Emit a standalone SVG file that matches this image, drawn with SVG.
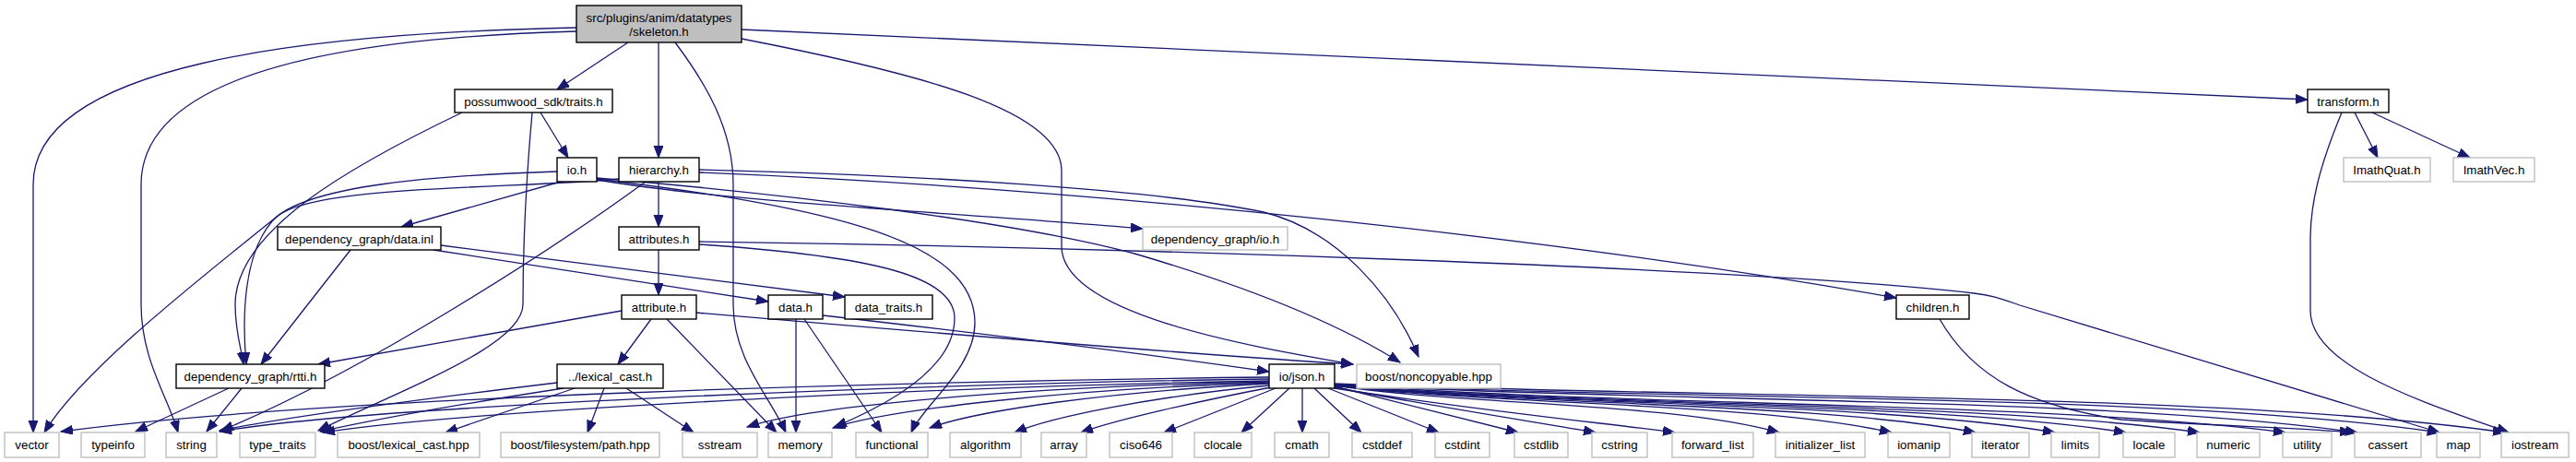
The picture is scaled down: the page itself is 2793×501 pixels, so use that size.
<svg xmlns="http://www.w3.org/2000/svg" width="2793" height="501" viewBox="0 0 2793 501">
<style>
  .bg{fill:#ffffff}
  .e{fill:none;stroke:#191970;stroke-width:1.3;marker-end:url(#arr)}
  .doc{fill:#ffffff;stroke:#000000;stroke-width:1.4}
  .ext{fill:#ffffff;stroke:#bfbfbf;stroke-width:1.4}
  .root{fill:#bfbfbf;stroke:#000000;stroke-width:1.4}
  text{font-family:"Liberation Sans",Arial,Helvetica,sans-serif;font-size:13.33px;fill:#000000;text-anchor:middle}
</style>
<defs>
  <marker id="arr" markerUnits="userSpaceOnUse" markerWidth="14" markerHeight="11" refX="13" refY="5" orient="auto">
    <path d="M0,0 L13,5 L0,10 z" fill="#191970" stroke="#191970" stroke-width="1"/>
  </marker>
</defs>
<rect class="bg" x="0" y="0" width="2793" height="501"/>
<g id="edges">
  <!-- skeleton.h -->
  <path class="e" d="M625,30 C 330,36 36,70 36,200 L 36,469"/>
  <path class="e" d="M625,34 C 400,40 153,72 153,200 L 153,330 C 153,390 182,430 193,469"/>
  <path class="e" d="M681,46 L 604,97"/>
  <path class="e" d="M714,46 L 714,171"/>
  <path class="e" d="M732,46 C 765,90 795,140 795,200 L 795,330 C 795,390 835,430 852,469"/>
  <path class="e" d="M804,32 L 2502,108"/>
  <path class="e" d="M804,42 C 1000,80 1151,120 1151,185 L 1151,267 C 1151,340 1350,375 1467,395"/>
  <!-- possumwood_sdk/traits.h -->
  <path class="e" d="M586,122 L 616,171"/>
  <path class="e" d="M501,122 C 380,180 255,250 255,330 C 255,360 262,380 264,395"/>
  <path class="e" d="M577,122 C 570,200 567,280 567,330 C 567,375 440,420 345,467"/>
  <!-- io.h -->
  <path class="e" d="M604,186 C 480,190 330,200 295,240 C 265,275 262,340 267,395"/>
  <path class="e" d="M608,197 L 435,246"/>
  <path class="e" d="M647,195 C 800,220 1000,228 1239,248"/>
  <path class="e" d="M647,193 C 850,210 1100,240 1230,275 C 1350,310 1450,350 1518,393"/>
  <path class="e" d="M647,194 C 900,225 1057,260 1057,350 C 1057,400 1000,440 988,469"/>
  <!-- hierarchy.h -->
  <path class="e" d="M714,197 L 714,246"/>
  <path class="e" d="M671,194 C 560,205 340,200 300,235 C 220,300 90,400 48,469"/>
  <path class="e" d="M700,197 C 600,270 400,400 240,467"/>
  <path class="e" d="M758,184 C 1000,190 1250,205 1370,230 C 1450,250 1510,320 1538,387"/>
  <path class="e" d="M758,187 C 1200,205 1700,260 2056,323"/>
  <!-- attributes.h -->
  <path class="e" d="M714,271 L 714,320"/>
  <path class="e" d="M758,262 C 1200,268 1900,290 2140,318 C 2160,320 2170,324 2190,331 L 2645,469"/>
  <path class="e" d="M758,265 C 950,278 1035,300 1035,345 C 1035,400 960,440 905,463"/>
  <!-- dependency_graph/data.inl -->
  <path class="e" d="M380,271 L 283,395"/>
  <path class="e" d="M470,271 L 833,327"/>
  <path class="e" d="M478,266 L 916,322"/>
  <!-- attribute.h -->
  <path class="e" d="M674,337 L 345,395"/>
  <path class="e" d="M706,346 L 670,395"/>
  <path class="e" d="M723,346 L 842,469"/>
  <path class="e" d="M755,339 C 1000,360 1300,385 1467,395"/>
  <!-- data.h -->
  <path class="e" d="M863,346 L 863,469"/>
  <path class="e" d="M872,346 L 956,469"/>
  <path class="e" d="M892,342 C 1050,360 1250,385 1376,403"/>
  <!-- dependency_graph/rtti.h -->
  <path class="e" d="M248,421 L 147,468"/>
  <path class="e" d="M262,421 L 224,468"/>
  <!-- ../lexical_cast.h -->
  <path class="e" d="M604,415 C 480,430 320,450 238,467"/>
  <path class="e" d="M611,421 C 520,435 420,452 347,468"/>
  <path class="e" d="M623,421 L 483,469"/>
  <path class="e" d="M655,421 L 637,469"/>
  <path class="e" d="M679,421 L 752,469"/>
  <!-- io/json.h left -->
  <path class="e" d="M1376,409 C 1000,413 350,430 66,468"/>
  <path class="e" d="M1376,411 C 1000,416 400,440 238,468"/>
  <path class="e" d="M1376,413 C 1050,418 500,445 350,469"/>
  <path class="e" d="M1376,414 C 1100,420 880,440 810,463"/>
  <path class="e" d="M1376,415 C 1150,422 960,445 903,464"/>
  <path class="e" d="M1376,416 C 1200,425 1060,445 1008,464"/>
  <path class="e" d="M1376,418 C 1250,430 1140,452 1100,469"/>
  <path class="e" d="M1378,420 C 1300,435 1210,455 1172,469"/>
  <path class="e" d="M1383,421 L 1262,469"/>
  <path class="e" d="M1398,421 L 1346,469"/>
  <!-- io/json.h down / right -->
  <path class="e" d="M1412,421 L 1412,469"/>
  <path class="e" d="M1425,421 L 1476,469"/>
  <path class="e" d="M1440,421 L 1560,469"/>
  <path class="e" d="M1447,419 L 1646,469"/>
  <path class="e" d="M1447,420 C 1550,440 1680,460 1730,469"/>
  <path class="e" d="M1447,421 C 1600,445 1750,460 1816,469"/>
  <path class="e" d="M1447,418 C 1592,440 1809,436 1929,469"/>
  <path class="e" d="M1447,418 C 1628,440 1901,436 2051,469"/>
  <path class="e" d="M1447,418 C 1656,440 1969,436 2142,469"/>
  <path class="e" d="M1447,418 C 1682,440 2034,436 2228,469"/>
  <path class="e" d="M1447,418 C 1705,440 2091,436 2305,469"/>
  <path class="e" d="M1447,418 C 1729,440 2151,436 2385,469"/>
  <path class="e" d="M1447,417 C 1757,440 2221,436 2478,469"/>
  <path class="e" d="M1447,417 C 1780,436 2280,430 2556,469"/>
  <path class="e" d="M1447,417 C 1809,434 2353,426 2645,469"/>
  <path class="e" d="M1447,416 C 1827,432 2398,424 2716,469"/>
  <!-- children.h -->
  <path class="e" d="M2103,346 C 2140,410 2200,440 2300,455 C 2400,462 2500,464 2550,469"/>
  <!-- transform.h -->
  <path class="e" d="M2553,122 L 2578,171"/>
  <path class="e" d="M2572,122 L 2678,171"/>
  <path class="e" d="M2539,122 C 2515,180 2505,220 2505,260 L 2505,337 C 2505,400 2640,440 2720,469"/>
</g>
<g id="node-skeleton"><rect class="root" x="625" y="6" width="179" height="40"/><text x="714.5" y="23.5">src/plugins/anim/datatypes</text><text x="714.5" y="38.5">/skeleton.h</text></g>
<g id="node-traits"><rect class="doc" x="493" y="97" width="171" height="25"/><text x="578.5" y="114.5">possumwood_sdk/traits.h</text></g>
<g id="node-transform"><rect class="doc" x="2502" y="97" width="88" height="25"/><text x="2546" y="114.5">transform.h</text></g>
<g id="node-io"><rect class="doc" x="604" y="171" width="43" height="26"/><text x="625.5" y="188.5">io.h</text></g>
<g id="node-hierarchy"><rect class="doc" x="671" y="171" width="87" height="26"/><text x="714.5" y="188.5">hierarchy.h</text></g>
<g id="node-imathquat"><rect class="ext" x="2541" y="171" width="94" height="26"/><text x="2588" y="188.5">ImathQuat.h</text></g>
<g id="node-imathvec"><rect class="ext" x="2660" y="171" width="88" height="26"/><text x="2704" y="188.5">ImathVec.h</text></g>
<g id="node-datainl"><rect class="doc" x="301" y="246" width="177" height="25"/><text x="389.5" y="263.5">dependency_graph/data.inl</text></g>
<g id="node-attributes"><rect class="doc" x="671" y="246" width="87" height="25"/><text x="714.5" y="263.5">attributes.h</text></g>
<g id="node-dgio"><rect class="ext" x="1239" y="246" width="157" height="25"/><text x="1317.5" y="263.5">dependency_graph/io.h</text></g>
<g id="node-attribute"><rect class="doc" x="674" y="320" width="81" height="26"/><text x="714.5" y="337.5">attribute.h</text></g>
<g id="node-data"><rect class="doc" x="833" y="320" width="59" height="26"/><text x="862.5" y="337.5">data.h</text></g>
<g id="node-datatraits"><rect class="doc" x="916" y="320" width="95" height="26"/><text x="963.5" y="337.5">data_traits.h</text></g>
<g id="node-children"><rect class="doc" x="2056" y="320" width="79" height="26"/><text x="2095.5" y="337.5">children.h</text></g>
<g id="node-rtti"><rect class="doc" x="191" y="395" width="161" height="26"/><text x="271.5" y="412.5">dependency_graph/rtti.h</text></g>
<g id="node-lexicalcast"><rect class="doc" x="604" y="395" width="115" height="26"/><text x="661.5" y="412.5">../lexical_cast.h</text></g>
<g id="node-json"><rect class="doc" x="1376" y="395" width="71" height="26"/><text x="1411.5" y="412.5">io/json.h</text></g>
<g id="node-noncopyable"><rect class="ext" x="1471" y="395" width="156" height="26"/><text x="1549" y="412.5">boost/noncopyable.hpp</text></g>
<g id="node-vector"><rect class="ext" x="5" y="469" width="59" height="27"/><text x="34.5" y="487">vector</text></g>
<g id="node-typeinfo"><rect class="ext" x="88" y="469" width="69" height="27"/><text x="122.5" y="487">typeinfo</text></g>
<g id="node-string"><rect class="ext" x="180" y="469" width="55" height="27"/><text x="207.5" y="487">string</text></g>
<g id="node-typetraits"><rect class="ext" x="260" y="469" width="82" height="27"/><text x="301" y="487">type_traits</text></g>
<g id="node-boostlexical"><rect class="ext" x="366" y="469" width="154" height="27"/><text x="443" y="487">boost/lexical_cast.hpp</text></g>
<g id="node-boostpath"><rect class="ext" x="543" y="469" width="172" height="27"/><text x="629" y="487">boost/filesystem/path.hpp</text></g>
<g id="node-sstream"><rect class="ext" x="740" y="469" width="81" height="27"/><text x="780.5" y="487">sstream</text></g>
<g id="node-memory"><rect class="ext" x="833" y="469" width="69" height="27"/><text x="867.5" y="487">memory</text></g>
<g id="node-functional"><rect class="ext" x="928" y="469" width="78" height="27"/><text x="967" y="487">functional</text></g>
<g id="node-algorithm"><rect class="ext" x="1030" y="469" width="77" height="27"/><text x="1068.5" y="487">algorithm</text></g>
<g id="node-array"><rect class="ext" x="1129" y="469" width="49" height="27"/><text x="1153.5" y="487">array</text></g>
<g id="node-ciso646"><rect class="ext" x="1203" y="469" width="68" height="27"/><text x="1237" y="487">ciso646</text></g>
<g id="node-clocale"><rect class="ext" x="1295" y="469" width="62" height="27"/><text x="1326" y="487">clocale</text></g>
<g id="node-cmath"><rect class="ext" x="1382" y="469" width="59" height="27"/><text x="1411.5" y="487">cmath</text></g>
<g id="node-cstddef"><rect class="ext" x="1466" y="469" width="65" height="27"/><text x="1498.5" y="487">cstddef</text></g>
<g id="node-cstdint"><rect class="ext" x="1556" y="469" width="59" height="27"/><text x="1585.5" y="487">cstdint</text></g>
<g id="node-cstdlib"><rect class="ext" x="1642" y="469" width="58" height="27"/><text x="1671" y="487">cstdlib</text></g>
<g id="node-cstring"><rect class="ext" x="1726" y="469" width="60" height="27"/><text x="1756" y="487">cstring</text></g>
<g id="node-forwardlist"><rect class="ext" x="1813" y="469" width="88" height="27"/><text x="1857" y="487">forward_list</text></g>
<g id="node-initlist"><rect class="ext" x="1925" y="469" width="97" height="27"/><text x="1973.5" y="487">initializer_list</text></g>
<g id="node-iomanip"><rect class="ext" x="2047" y="469" width="67" height="27"/><text x="2080.5" y="487">iomanip</text></g>
<g id="node-iterator"><rect class="ext" x="2138" y="469" width="62" height="27"/><text x="2169" y="487">iterator</text></g>
<g id="node-limits"><rect class="ext" x="2224" y="469" width="52" height="27"/><text x="2250" y="487">limits</text></g>
<g id="node-locale"><rect class="ext" x="2302" y="469" width="56" height="27"/><text x="2330" y="487">locale</text></g>
<g id="node-numeric"><rect class="ext" x="2382" y="469" width="68" height="27"/><text x="2416" y="487">numeric</text></g>
<g id="node-utility"><rect class="ext" x="2475" y="469" width="53" height="27"/><text x="2501.5" y="487">utility</text></g>
<g id="node-cassert"><rect class="ext" x="2553" y="469" width="72" height="27"/><text x="2589" y="487">cassert</text></g>
<g id="node-map"><rect class="ext" x="2642" y="469" width="47" height="27"/><text x="2665.5" y="487">map</text></g>
<g id="node-iostream"><rect class="ext" x="2712" y="469" width="73" height="27"/><text x="2748.5" y="487">iostream</text></g>
</svg>
